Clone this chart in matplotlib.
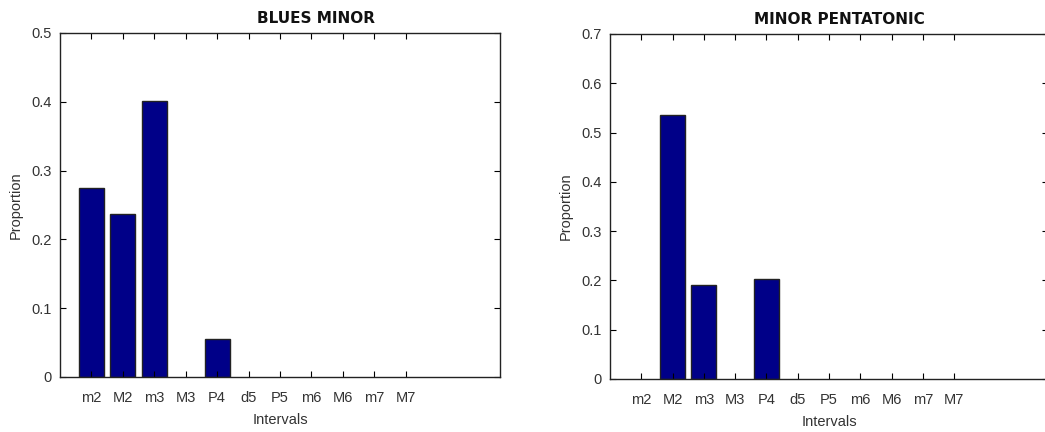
import matplotlib
matplotlib.use("Agg")
import matplotlib.pyplot as plt
import numpy as np

plt.rcParams['font.family'] = ['Liberation Sans', 'DejaVu Sans']

intervals = ['m2', 'M2', 'm3', 'M3', 'P4', 'd5', 'P5', 'm6', 'M6', 'm7', 'M7']
blues_minor = [0.274, 0.237, 0.401, 0.0, 0.055, 0, 0, 0, 0, 0, 0]
minor_pentatonic = [0.0, 0.536, 0.190, 0.0, 0.202, 0, 0, 0, 0, 0, 0]

W, H = 1045, 432
fig = plt.figure(figsize=(W / 100, H / 100), dpi=100)

def make_ax(left_px, right_px, top_px, bottom_px):
    return fig.add_axes([left_px / W, 1 - bottom_px / H,
                         (right_px - left_px) / W, (bottom_px - top_px) / H])

panels = [
    (make_ax(60, 500, 33, 377), blues_minor, 'BLUES MINOR', 0.5, 0.582),
    (make_ax(610, 1048, 34, 379), minor_pentatonic, 'MINOR PENTATONIC', 0.7, 0.523),
]

x = np.arange(1, len(intervals) + 1)
for ax, vals, title, ymax, tx in panels:
    bars = ax.bar(x, vals, width=0.8, color='#000088', edgecolor='#222222', linewidth=1.0)
    for b, v in zip(bars, vals):
        if v == 0:
            b.set_visible(False)
    ax.set_xlim(0, 14)
    ax.set_ylim(0, ymax)
    ax.set_xticks(x)
    ax.set_xticklabels(intervals)
    yt = np.round(np.arange(0, ymax + 0.001, 0.1), 1)
    ax.set_yticks(yt)
    ax.set_yticklabels(['0' if v == 0 else f'{v:.1f}' for v in yt])
    ax.tick_params(direction='in', length=4, width=0.8, top=True, right=True,
                   labelsize=10.5, labelcolor='#333333', pad=10)
    ax.tick_params(axis='y', pad=6)
    for s in ax.spines.values():
        s.set_linewidth(1.0)
        s.set_color('#222222')
    ax.set_xlabel('Intervals', fontsize=10.5, color='#333333', labelpad=6)
    ax.set_ylabel('Proportion', fontsize=10.5, color='#333333', labelpad=6)
    ax.set_title(title, fontsize=11, fontweight='bold', x=tx, pad=7, color='#111111',
                 family='DejaVu Sans')

fig.savefig('out.png', dpi=100)
